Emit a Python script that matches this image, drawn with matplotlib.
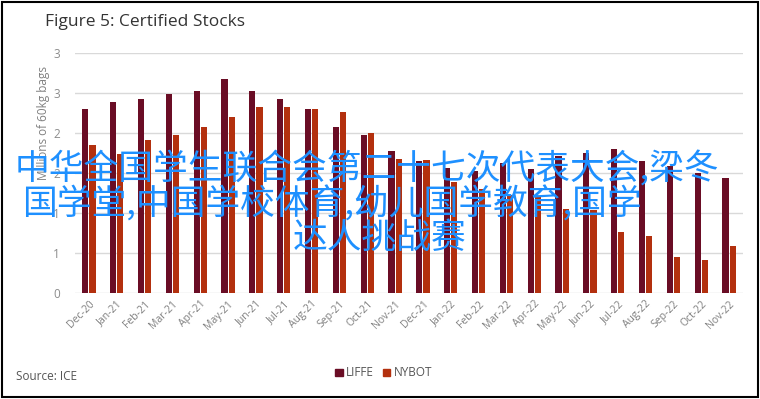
import matplotlib
matplotlib.use('Agg')
import matplotlib.pyplot as plt
import numpy as np
from matplotlib.patches import Patch, Rectangle

# data
months = ['Dec-20', 'Jan-21', 'Feb-21', 'Mar-21', 'Apr-21', 'May-21', 'Jun-21', 'Jul-21',
          'Aug-21', 'Sep-21', 'Oct-21', 'Nov-21', 'Dec-21', 'Jan-22', 'Feb-22', 'Mar-22',
          'Apr-22', 'May-22', 'Jun-22', 'Jul-22', 'Aug-22', 'Sep-22', 'Oct-22', 'Nov-22']
liffe = [2.30, 2.39, 2.43, 2.49, 2.52, 2.67, 2.52, 2.43, 2.30, 2.08, 1.97, 1.77,
         1.65, 1.56, 1.53, 1.62, 1.55, 1.71, 1.75, 1.80, 1.65, 1.59, 1.50, 1.44]
nybot = [1.85, 1.74, 1.91, 1.97, 2.07, 2.20, 2.32, 2.32, 2.30, 2.26, 2.00, 1.67,
         1.66, 1.39, 1.30, 1.23, 1.20, 1.05, 1.04, 0.76, 0.71, 0.45, 0.41, 0.59]
yticks = [0, 0.5, 1, 1.5, 2, 2.5, 3]
ytick_labels = ['0', '1', '1', '2', '2', '3', '3']
overlay_lines = ['中华全国学生联合会第二十七次代表大会,梁冬',
                 '国学堂,中国学校体育,幼儿国学教育,国学',
                 '达人挑战赛']

plt.rcParams['font.family'] = ['Open Sans', 'DejaVu Sans']

W, H = 760, 399
fig = plt.figure(figsize=(W / 100, H / 100), dpi=100)
ax = fig.add_axes([75 / W, 1 - 293 / H, 668 / W, 240 / H])

x = np.arange(len(months))
ax.bar(x - 0.13, liffe, width=0.22, color='#6a0d25', zorder=3)
ax.bar(x + 0.13, nybot, width=0.22, color='#b3300e', zorder=3)

ax.set_xlim(-0.5, len(months) - 0.5)
ax.set_ylim(0, 3)
ax.set_yticks(yticks)
ax.set_yticklabels(ytick_labels, fontsize=8.5, color='#8c8c8c')
ax.set_xticks(x)
ax.set_xticklabels(months, rotation=45, ha='right', rotation_mode='anchor',
                   fontsize=7.5, color='#7f7f7f')
ax.tick_params(axis='both', length=0)
ax.tick_params(axis='y', pad=11)
ax.tick_params(axis='x', pad=4)
ax.grid(axis='y', color='#d9d9d9', linewidth=1, zorder=0)
for s in ax.spines.values():
    s.set_visible(False)

fig.text(45 / W, 1 - 22 / H, 'Figure 5: Certified Stocks', fontsize=12.5,
         color='#333333', va='center', ha='left')
fig.text(44 / W, 1 - 123 / H, 'Millions of 60kg bags', rotation=90, fontsize=8.5,
         color='#808080', va='center', ha='center')
fig.text(16 / W, 1 - 377 / H, 'Source: ICE', fontsize=8.5, color='#555555',
         va='center', ha='left')

handles = [Patch(color='#6a0d25', label='LIFFE'), Patch(color='#b3300e', label='NYBOT')]
fig.legend(handles=handles, loc='center', bbox_to_anchor=(384 / W, 1 - 373 / H), ncol=2,
           frameon=False, fontsize=8.5, handlelength=0.6, handleheight=0.6,
           handletextpad=0.3, columnspacing=0.8, labelcolor='#555555')

# overlay text
pos = [(15, 169), (22, 205), (293, 238)]
for line, (px, py) in zip(overlay_lines, pos):
    fig.text(px / W, 1 - py / H, line, fontsize=25, color='#1e90ff', fontweight='medium',
             family=['Noto Sans CJK SC', 'DejaVu Sans'], ha='left', va='center')

fig.patches.append(Rectangle((1.5 / W, 2 / H), (W - 4) / W, (H - 4) / H, fill=False,
                             edgecolor='black', linewidth=1.5, transform=fig.transFigure))

fig.savefig('out.png', dpi=100)
